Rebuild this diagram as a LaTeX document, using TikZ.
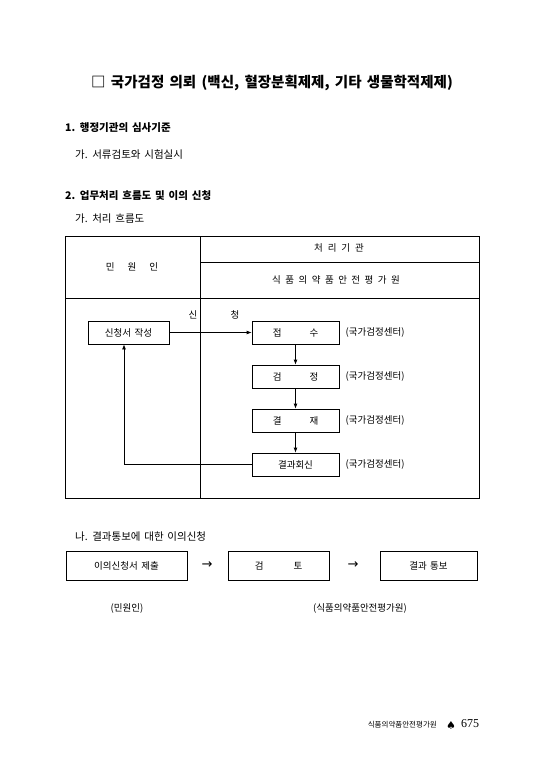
\documentclass[tikz,border=0pt]{standalone}
\usepackage{fontspec}
\setmainfont[WordSpace=1.6]{Noto Sans CJK KR}
\newfontfamily\symfont{DejaVu Sans}
\newfontfamily\numfont{Liberation Serif}
\usetikzlibrary{arrows.meta}
\begin{document}
\begin{tikzpicture}[x=1pt,y=-1pt,
  line/.style={line width=0.8pt},
  flowbox/.style={draw,line width=0.8pt,minimum width=87pt,minimum height=23pt,inner sep=0pt,font=\fontsize{9.5}{11}\selectfont},
  optbox/.style={draw,line width=0.9pt,minimum height=29pt,inner sep=0pt,font=\fontsize{9.5}{11}\selectfont},
  lbl/.style={inner sep=0pt,font=\fontsize{9.5}{11}\selectfont},
  head/.style={inner sep=0pt,anchor=west,font=\fontsize{10.5}{12}\selectfont\bfseries},
  sub/.style={inner sep=0pt,anchor=west,font=\fontsize{10.5}{12}\selectfont},
  arr/.style={line width=0.8pt,-{Latex[length=5pt,width=4pt]}}]
\useasboundingbox[fill=white] (0,0) rectangle (544,770);
% title
\node[inner sep=0pt,font=\fontsize{14.5}{16}\selectfont\bfseries] (title) at (272,83) {□ 국가검정 의뢰 (백신, 혈장분획제제, 기타 생물학적제제)};
\node[head] (h1) at (65,128) {1. 행정기관의 심사기준};
\node[sub] (s1) at (75,155) {가. 서류검토와 시험실시};
\node[head] (h2) at (65,196) {2. 업무처리 흐름도 및 이의 신청};
\node[sub] (s2) at (75,219) {가. 처리 흐름도};
% table
\draw[line width=1pt] (65,236) rectangle (479,498);
\draw[line] (200,236) -- (200,498);
\draw[line] (65,298) -- (479,298);
\draw[line] (200,262) -- (479,262);
\node[lbl] (t1) at (339,248) {처\hspace{5pt}리\hspace{5pt}기\hspace{5pt}관};
\node[lbl] (t2) at (336,280) {식\hspace{4.5pt}품\hspace{4.5pt}의\hspace{4.5pt}약\hspace{4.5pt}품\hspace{4.5pt}안\hspace{4.5pt}전\hspace{4.5pt}평\hspace{4.5pt}가\hspace{4.5pt}원};
\node[lbl] (t3) at (132,267) {민\hspace{13pt}원\hspace{13pt}인};
% flow
\node[flowbox,minimum width=81pt] (app) at (128.5,332.5) {신청서 작성};
\node[lbl] (sin) at (193,315) {신};
\node[lbl] (cheong) at (235,315) {청};
\node[flowbox] (b1) at (295.5,332.5) {접\hspace{28pt}수};
\node[flowbox] (b2) at (295.5,376.5) {검\hspace{28pt}정};
\node[flowbox] (b3) at (295.5,420.5) {결\hspace{28pt}재};
\node[flowbox] (b4) at (295.5,464.5) {결과회신};
\foreach \b in {b1,b2,b3,b4}{
  \node[lbl,anchor=west] (c\b) at ([xshift=6pt]\b.east) {(국가검정센터)};
}
\draw[arr] (app) -- (b1);
\draw[arr] (b1) -- (b2);
\draw[arr] (b2) -- (b3);
\draw[arr] (b3) -- (b4);
\coordinate (ret) at (124,464.5);
\draw[arr] (b4.west) -- (ret) -- (app.south -| ret);
% objection
\node[sub] (s3) at (75,537) {나. 결과통보에 대한 이의신청};
\node[optbox,minimum width=121pt] (o1) at (126.5,565.5) {이의신청서 제출};
\node[optbox,minimum width=101pt] (o2) at (278.5,565.5) {검\hspace{30pt}토};
\node[optbox,minimum width=97pt] (o3) at (428.5,565.5) {결과 통보};
\node[inner sep=0pt,font=\fontsize{13}{14}\selectfont\symfont] (a1) at (207,565.5) {→};
\node[inner sep=0pt,font=\fontsize{13}{14}\selectfont\symfont] (a2) at (353,565.5) {→};
\node[lbl] (p1) at (127,608) {(민원인)};
\node[lbl] (p2) at (360,608) {(식품의약품안전평가원)};
% footer
\node[inner sep=0pt,anchor=east,font=\fontsize{7.5}{9}\selectfont] (f1) at (437,725) {식품의약품안전평가원};
\node[inner sep=0pt,font=\fontsize{11}{12}\selectfont\symfont] (f2) at (451,725) {♠};
\node[inner sep=0pt,anchor=west,font=\fontsize{12}{13}\selectfont\numfont] (f3) at (461,724) {675};
\end{tikzpicture}
\end{document}
